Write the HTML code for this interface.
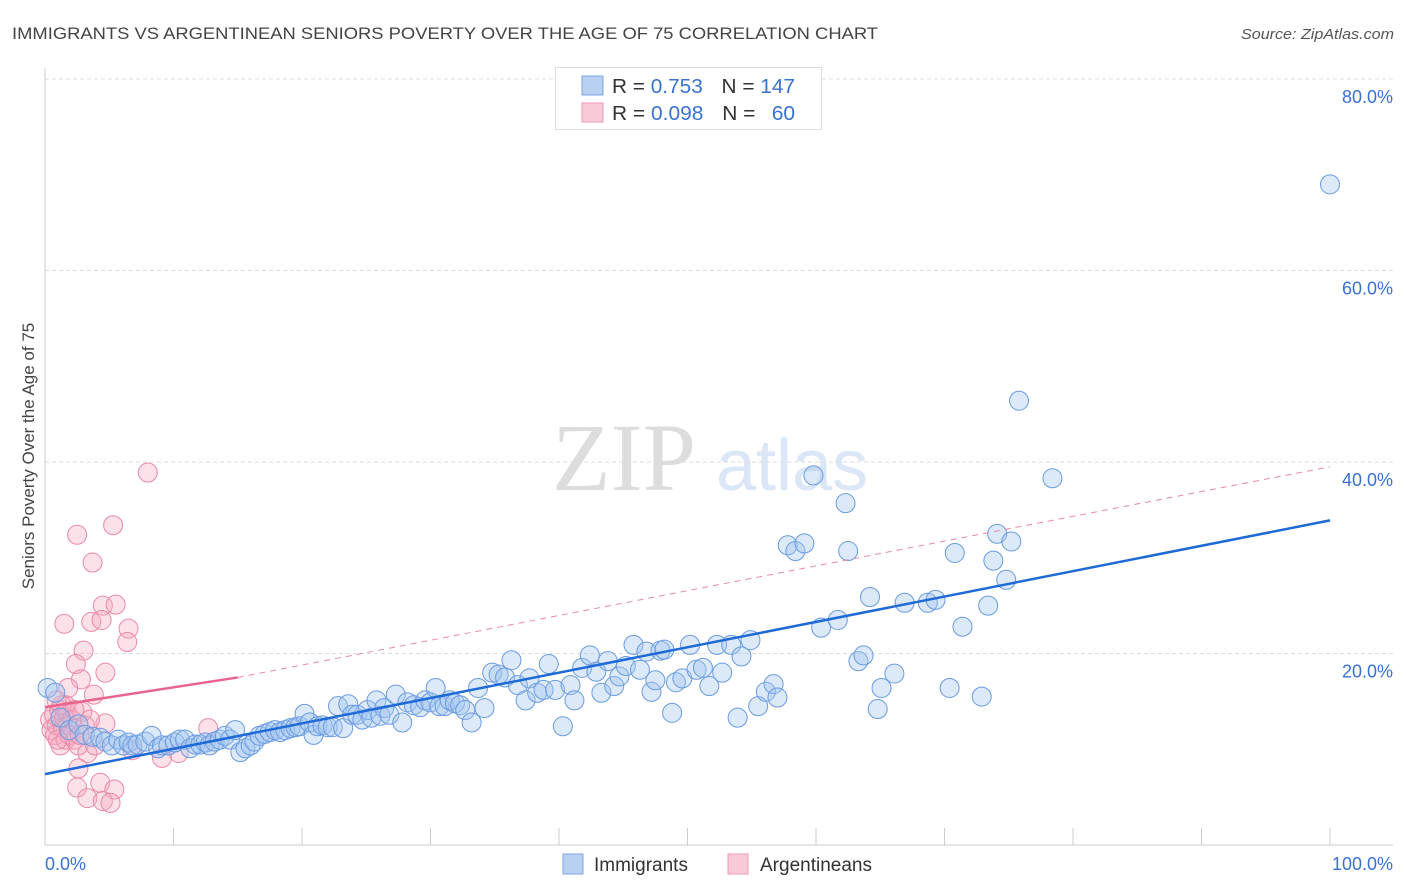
<!DOCTYPE html>
<html><head><meta charset="utf-8"><style>
body{margin:0;background:#fff;width:1406px;height:892px;overflow:hidden;font-family:"Liberation Sans",sans-serif}
svg{display:block}
</style></head><body>
<svg id="chart" width="1406" height="892" xmlns="http://www.w3.org/2000/svg">
<text x="12" y="39" font-size="17" fill="#444" textLength="866" lengthAdjust="spacingAndGlyphs">IMMIGRANTS VS ARGENTINEAN SENIORS POVERTY OVER THE AGE OF 75 CORRELATION CHART</text>
<text x="1394" y="39" font-size="15" fill="#555" text-anchor="end" font-style="italic" textLength="153" lengthAdjust="spacingAndGlyphs">Source: ZipAtlas.com</text>
<text x="552" y="490" font-size="96" fill="#ddd" font-family="Liberation Serif,serif">ZIP</text>
<text x="716" y="490" font-size="72" fill="#dbe6f6">atlas</text>
<g id="grid"></g>
<g id="axes"></g>
<g id="pts"></g>
<g id="trend"></g>
<text transform="translate(34,456) rotate(-90)" font-size="17" fill="#444" text-anchor="middle">Seniors Poverty Over the Age of 75</text>
<g>
<rect x="555.5" y="67.5" width="266" height="62" fill="#fff" stroke="#ddd"/>
<rect x="582" y="76" width="21" height="19" fill="#b8d1f3" stroke="#7aa5e6"/>
<rect x="582" y="103" width="21" height="19" fill="#fbcad8" stroke="#ee9ab3"/>
<text x="612" y="93" font-size="20" fill="#333" textLength="183" lengthAdjust="spacingAndGlyphs">R = <tspan fill="#3a72d0">0.753</tspan><tspan dx="18">N = </tspan><tspan fill="#3a72d0">147</tspan></text>
<text x="612" y="120" font-size="20" fill="#333" textLength="183" lengthAdjust="spacingAndGlyphs">R = <tspan fill="#3a72d0">0.098</tspan><tspan dx="18">N = </tspan><tspan fill="#3a72d0" dx="10">60</tspan></text>
</g>
<g>
<rect x="563" y="854" width="20" height="20" fill="#b8d1f3" stroke="#7aa5e6"/>
<text x="594" y="871" font-size="19" fill="#333">Immigrants</text>
<rect x="728" y="854" width="20" height="20" fill="#fbcad8" stroke="#ee9ab3"/>
<text x="760" y="871" font-size="19" fill="#333">Argentineans</text>
</g>
</svg>
<script>
const xTicksLabels=["0.0%","100.0%"];
const yTicks=[20,40,60,80];
const blueX=[0.2,0.8,1.2,1.9,2.6,3.1,3.7,4.3,4.7,5.2,5.7,6.1,6.5,6.8,7.2,7.8,8.3,8.8,9.1,9.6,10.1,10.5,10.9,11.3,11.7,12.1,12.5,12.8,13.2,13.6,14.0,14.4,14.8,15.2,15.6,16.0,16.3,16.7,17.1,17.5,17.9,18.3,18.7,19.1,19.5,19.8,20.2,20.6,20.9,21.2,21.6,22.0,22.4,22.8,23.2,23.6,23.9,24.3,24.7,25.1,25.4,25.8,26.1,26.4,26.8,27.3,27.8,28.2,28.7,29.2,29.6,30.0,30.4,30.7,31.1,31.5,31.9,32.3,32.7,33.2,33.7,34.2,34.8,35.3,35.8,36.3,36.8,37.4,37.7,38.3,38.8,39.2,39.7,40.3,40.9,41.2,41.8,42.4,42.9,43.3,43.8,44.3,44.7,45.2,45.8,46.3,46.8,47.2,47.5,47.9,48.2,48.8,49.1,49.6,50.2,50.7,51.2,51.7,52.3,52.7,53.4,53.9,54.2,54.9,55.5,56.1,56.7,57.0,57.8,58.4,59.1,59.8,60.4,61.7,62.3,62.5,63.3,63.7,64.2,64.8,65.1,66.1,66.9,68.7,69.3,70.4,70.8,71.4,72.9,73.4,73.8,74.1,74.8,75.2,75.8,78.4,100];
const blueY=[16.4,15.9,13.3,12.0,12.6,11.5,11.3,11.2,10.8,10.4,11.0,10.4,10.7,10.4,10.5,10.8,11.4,10.1,10.4,10.4,10.7,11.0,11.0,10.1,10.5,10.5,10.7,10.4,10.8,11.0,11.4,11.0,12.0,9.7,10.1,10.4,10.8,11.4,11.6,11.8,12.0,11.8,12.0,12.2,12.3,12.4,13.7,12.8,11.5,12.4,12.5,12.3,12.3,14.5,12.2,14.7,13.6,13.6,13.1,14.1,13.3,15.1,13.5,14.3,13.6,15.7,12.8,14.9,14.6,14.4,15.1,14.9,16.4,14.5,14.5,15.1,14.8,14.6,14.1,12.8,16.4,14.3,18.0,17.8,17.5,19.3,16.7,15.1,17.4,15.9,16.2,18.9,16.2,12.4,16.7,15.1,18.5,19.8,18.1,15.9,19.2,16.6,17.6,18.7,20.9,18.3,20.2,16.0,17.2,20.3,20.4,13.8,17.0,17.4,20.9,18.3,18.5,16.6,20.9,18.0,20.9,13.3,19.7,21.4,14.5,16.0,16.8,15.4,31.3,30.7,31.5,38.6,22.7,23.5,35.7,30.7,19.2,19.8,25.9,14.2,16.4,17.9,25.3,25.3,25.6,16.4,30.5,22.8,15.5,25.0,29.7,32.5,27.7,31.7,46.4,38.3,69.0];
const pinkX=[8.0,2.5,5.3,3.7,4.5,5.5,1.5,3.6,4.4,6.5,6.4,3.0,2.4,4.7,2.8,3.8,1.8,4.7,12.7,2.6,2.5,4.3,5.4,3.3,4.5,5.1,3.3,9.1,10.4,6.8,0.4,0.5,0.7,0.8,0.9,1.1,1.2,1.4,1.5,1.6,1.6,1.7,1.8,1.9,2.1,2.3,2.6,2.7,2.9,3.1,3.5,1.3,1.0,3.9,2.3,0.9];
const pinkY=[38.9,32.4,33.4,29.5,25.0,25.1,23.1,23.3,23.5,22.6,21.2,20.3,18.9,18.0,17.3,15.7,16.4,12.7,12.2,8.0,6.0,6.5,5.8,4.9,4.6,4.4,9.6,9.1,9.6,9.9,13.1,12.0,13.6,11.5,12.5,14.1,10.4,12.2,13.3,11.0,14.6,13.9,12.5,11.5,13.1,11.0,10.4,11.5,13.9,12.5,13.1,14.6,11.0,10.4,14.1,15.1];
const blueTrend=[0,7.4,100,33.9];
const pinkTrend=[0,14.4,15,17.5,100,39.5];
const NS="http://www.w3.org/2000/svg";
const X0=45,X1=1330,Y0=845,PXPER=9.575;
function sx(v){return X0+(X1-X0)*v/100;}
function sy(v){return Y0-v*PXPER;}
function mk(tag,attrs,parent){const e=document.createElementNS(NS,tag);for(const k in attrs)e.setAttribute(k,attrs[k]);parent.appendChild(e);return e;}
const grid=document.getElementById('grid'),axes=document.getElementById('axes'),pts=document.getElementById('pts'),trend=document.getElementById('trend');
yTicks.forEach(t=>{
  const l=mk('line',{x1:45,x2:1393,y1:sy(t),y2:sy(t),stroke:'#ddd','stroke-dasharray':'4,3'},grid);
  
  
  const tx=mk('text',{x:1393,y:sy(t)+24,'font-size':18,fill:'#3a72d0','text-anchor':'end'},grid);
  tx.textContent=t.toFixed(1)+'%';
  
  
});
const ax=mk('line',{x1:45,x2:1393,y1:845,y2:845,stroke:'#ccc'},axes);


const ay=mk('line',{x1:45,x2:45,y1:68,y2:845,stroke:'#ccc'},axes);


for(let i=0;i<=10;i++){
  const t=mk('line',{x1:sx(i*10),x2:sx(i*10),y1:828,y2:845,stroke:'#ccc'},axes);
  
  
}
const xl0=mk('text',{x:45,y:870,'font-size':18,fill:'#3a72d0'},axes);xl0.textContent=xTicksLabels[0];


const xl1=mk('text',{x:1393,y:870,'font-size':18,fill:'#3a72d0','text-anchor':'end'},axes);xl1.textContent=xTicksLabels[1];


pinkX.forEach((x,i)=>{
  const c=mk('circle',{cx:sx(x),cy:sy(pinkY[i]),r:9.5,fill:'rgba(246,170,192,0.35)',stroke:'#e98aa8','stroke-width':1},pts);
  
  
});
blueX.forEach((x,i)=>{
  const c=mk('circle',{cx:sx(x),cy:sy(blueY[i]),r:9.5,fill:'rgba(160,196,240,0.38)',stroke:'#6b9be2','stroke-width':1},pts);
  
  
});
const pd=mk('line',{x1:sx(pinkTrend[2]),y1:sy(pinkTrend[3]),x2:sx(pinkTrend[4]),y2:sy(pinkTrend[5]),stroke:'#e98aa8','stroke-width':1,'stroke-dasharray':'6,5'},trend);


const ps=mk('line',{x1:sx(pinkTrend[0]),y1:sy(pinkTrend[1]),x2:sx(pinkTrend[2]),y2:sy(pinkTrend[3]),stroke:'#e8648c','stroke-width':2.5},trend);


const bl=mk('line',{x1:sx(blueTrend[0]),y1:sy(blueTrend[1]),x2:sx(blueTrend[2]),y2:sy(blueTrend[3]),stroke:'#1f6ad6','stroke-width':2.5},trend);


</script>
</body></html>
